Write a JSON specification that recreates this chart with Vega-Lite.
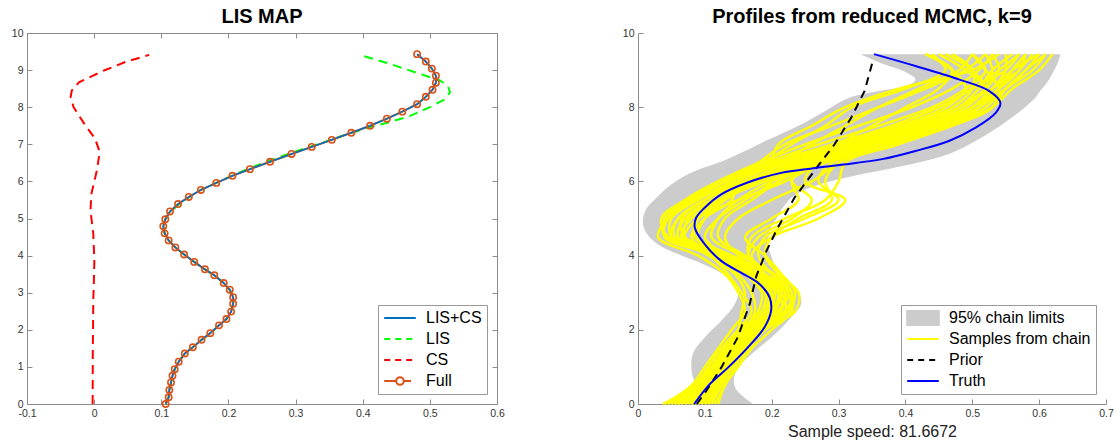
{
  "$schema": "https://vega.github.io/schema/vega-lite/v6.json",
  "background": "white",
  "padding": {"left": 10, "top": 6, "right": 4, "bottom": 2},
  "spacing": 117,
  "resolve": {"scale": {"color": "independent"}, "legend": {"color": "independent"}},
  "config": {
    "font": "Liberation Sans",
    "view": {"stroke": null},
    "axis": {"grid": false, "domainColor": "#8c8c8c", "tickColor": "#8c8c8c", "labelColor": "#333333", "labelFontSize": 10.5, "tickSize": -5, "labelPadding": 9, "labelFlush": false, "labelOverlap": false, "title": null},
    "title": {"fontSize": 20, "fontWeight": "bold", "color": "#000000", "offset": 1},
    "legend": {"orient": "bottom-right", "offset": 10, "title": null, "symbolType": "stroke", "symbolSize": 1000, "symbolStrokeWidth": 2, "labelFontSize": 16, "labelColor": "#000000", "labelOffset": 9, "padding": 5, "rowPadding": 5, "clipHeight": 16, "strokeColor": "#999999", "fillColor": "white", "cornerRadius": 0}
  },
  "datasets": {
    "full": [
      {"x":0.1065,"y":0},{"x":0.111,"y":0.18},{"x":0.112,"y":0.38},{"x":0.1145,"y":0.58},{"x":0.1167,"y":0.76},{"x":0.12,"y":0.94},{"x":0.126,"y":1.14},{"x":0.135,"y":1.36},{"x":0.147,"y":1.53},{"x":0.16,"y":1.73},{"x":0.173,"y":1.91},{"x":0.186,"y":2.12},{"x":0.197,"y":2.29},{"x":0.204,"y":2.49},{"x":0.207,"y":2.7},{"x":0.207,"y":2.88},{"x":0.202,"y":3.08},{"x":0.193,"y":3.26},{"x":0.179,"y":3.47},{"x":0.165,"y":3.63},{"x":0.149,"y":3.83},{"x":0.134,"y":4.03},{"x":0.121,"y":4.22},{"x":0.111,"y":4.41},{"x":0.105,"y":4.6},{"x":0.103,"y":4.79},{"x":0.106,"y":4.98},{"x":0.113,"y":5.19},{"x":0.125,"y":5.39},{"x":0.141,"y":5.58},{"x":0.159,"y":5.77},{"x":0.182,"y":5.96},{"x":0.206,"y":6.15},{"x":0.232,"y":6.33},{"x":0.262,"y":6.53},{"x":0.294,"y":6.74},{"x":0.324,"y":6.93},{"x":0.354,"y":7.12},{"x":0.383,"y":7.31},{"x":0.411,"y":7.5},{"x":0.436,"y":7.69},{"x":0.459,"y":7.88},{"x":0.481,"y":8.08},{"x":0.494,"y":8.28},{"x":0.504,"y":8.47},{"x":0.509,"y":8.66},{"x":0.509,"y":8.85},{"x":0.503,"y":9.04},{"x":0.494,"y":9.23},{"x":0.481,"y":9.43}
    ],
    "lis": [
      {"x":0.1065,"y":0},{"x":0.111,"y":0.18},{"x":0.112,"y":0.38},{"x":0.1145,"y":0.58},{"x":0.1167,"y":0.76},{"x":0.12,"y":0.94},{"x":0.126,"y":1.14},{"x":0.135,"y":1.36},{"x":0.147,"y":1.53},{"x":0.16,"y":1.73},{"x":0.173,"y":1.91},{"x":0.186,"y":2.12},{"x":0.197,"y":2.29},{"x":0.204,"y":2.49},{"x":0.207,"y":2.7},{"x":0.207,"y":2.88},{"x":0.202,"y":3.08},{"x":0.193,"y":3.26},{"x":0.179,"y":3.47},{"x":0.165,"y":3.63},{"x":0.149,"y":3.83},{"x":0.134,"y":4.03},{"x":0.121,"y":4.22},{"x":0.111,"y":4.41},{"x":0.105,"y":4.6},{"x":0.103,"y":4.79},{"x":0.106,"y":4.98},{"x":0.114,"y":5.19},{"x":0.127,"y":5.39},{"x":0.142,"y":5.58},{"x":0.159,"y":5.77},{"x":0.182,"y":5.96},{"x":0.205,"y":6.15},{"x":0.228,"y":6.33},{"x":0.257,"y":6.53},{"x":0.289,"y":6.74},{"x":0.321,"y":6.93},{"x":0.352,"y":7.12},{"x":0.383,"y":7.31},{"x":0.413,"y":7.47},{"x":0.44,"y":7.6},{"x":0.47,"y":7.76},{"x":0.5,"y":8.0},{"x":0.522,"y":8.21},{"x":0.53,"y":8.4},{"x":0.527,"y":8.57},{"x":0.515,"y":8.72},{"x":0.495,"y":8.84},{"x":0.465,"y":9.02},{"x":0.435,"y":9.2},{"x":0.401,"y":9.38}
    ],
    "cs": [
      {"x":-0.0023,"y":0},{"x":-0.0021,"y":0.7},{"x":-0.002,"y":1.44},{"x":-0.0016,"y":2.1},{"x":-0.0013,"y":2.79},{"x":-0.0004,"y":3.3},{"x":0.0003,"y":3.87},{"x":-0.0013,"y":4.59},{"x":-0.0055,"y":5.22},{"x":-0.004,"y":5.67},{"x":0.004,"y":6.29},{"x":0.0083,"y":6.79},{"x":0.0014,"y":7.15},{"x":-0.0146,"y":7.55},{"x":-0.0306,"y":8.0},{"x":-0.035,"y":8.27},{"x":-0.0333,"y":8.45},{"x":-0.0226,"y":8.67},{"x":0.0147,"y":8.99},{"x":0.0467,"y":9.22},{"x":0.082,"y":9.41}
    ],
    "truth": [
      {"x":0.084,"y":0},{"x":0.107,"y":0.53},{"x":0.1345,"y":0.98},{"x":0.164,"y":1.52},{"x":0.189,"y":2.06},{"x":0.199,"y":2.51},{"x":0.197,"y":2.87},{"x":0.182,"y":3.23},{"x":0.163,"y":3.45},{"x":0.125,"y":3.85},{"x":0.1,"y":4.3},{"x":0.085,"y":4.75},{"x":0.087,"y":5.02},{"x":0.0997,"y":5.29},{"x":0.1245,"y":5.65},{"x":0.164,"y":5.97},{"x":0.214,"y":6.23},{"x":0.26,"y":6.35},{"x":0.305,"y":6.45},{"x":0.365,"y":6.6},{"x":0.415,"y":6.82},{"x":0.465,"y":7.09},{"x":0.505,"y":7.45},{"x":0.535,"y":7.85},{"x":0.542,"y":8.12},{"x":0.525,"y":8.44},{"x":0.48,"y":8.75},{"x":0.415,"y":9.11},{"x":0.353,"y":9.43}
    ],
    "prior": [
      {"x":0.088,"y":0},{"x":0.102,"y":0.35},{"x":0.1245,"y":0.98},{"x":0.149,"y":1.79},{"x":0.167,"y":2.69},{"x":0.177,"y":3.45},{"x":0.192,"y":4.12},{"x":0.209,"y":4.75},{"x":0.234,"y":5.56},{"x":0.269,"y":6.41},{"x":0.294,"y":7.0},{"x":0.319,"y":7.72},{"x":0.339,"y":8.44},{"x":0.352,"y":9.3}
    ],
    "band": [
      {"y":0,"lo":0.075,"hi":0.172},{"y":0.45,"lo":0.085,"hi":0.145},{"y":0.9,"lo":0.08,"hi":0.147},{"y":1.35,"lo":0.082,"hi":0.17},{"y":1.8,"lo":0.1,"hi":0.2},{"y":2.25,"lo":0.125,"hi":0.225},{"y":2.7,"lo":0.145,"hi":0.244},{"y":3.1,"lo":0.15,"hi":0.238},{"y":3.45,"lo":0.132,"hi":0.213},{"y":3.75,"lo":0.1,"hi":0.204},{"y":4.0,"lo":0.065,"hi":0.199},{"y":4.3,"lo":0.03,"hi":0.194},{"y":4.55,"lo":0.015,"hi":0.196},{"y":4.8,"lo":0.008,"hi":0.2},{"y":5.05,"lo":0.008,"hi":0.209},{"y":5.3,"lo":0.014,"hi":0.217},{"y":5.6,"lo":0.03,"hi":0.232},{"y":5.85,"lo":0.045,"hi":0.26},{"y":6.1,"lo":0.065,"hi":0.31},{"y":6.3,"lo":0.088,"hi":0.365},{"y":6.5,"lo":0.12,"hi":0.418},{"y":6.75,"lo":0.152,"hi":0.467},{"y":7.1,"lo":0.192,"hi":0.506},{"y":7.5,"lo":0.24,"hi":0.542},{"y":7.9,"lo":0.28,"hi":0.572},{"y":8.25,"lo":0.315,"hi":0.594},{"y":8.45,"lo":0.365,"hi":0.602},{"y":8.6,"lo":0.405,"hi":0.609},{"y":8.75,"lo":0.415,"hi":0.615},{"y":8.95,"lo":0.4,"hi":0.621},{"y":9.2,"lo":0.362,"hi":0.628},{"y":9.43,"lo":0.333,"hi":0.632}
    ],
    "samples": [
      {"s":1,"y":0,"x":0.085},{"s":1,"y":0.5,"x":0.105},{"s":1,"y":1,"x":0.12},{"s":1,"y":1.5,"x":0.14},{"s":1,"y":2,"x":0.165},{"s":1,"y":2.5,"x":0.19},{"s":1,"y":3,"x":0.195},{"s":1,"y":3.5,"x":0.165},{"s":1,"y":4,"x":0.12},{"s":1,"y":4.5,"x":0.07},{"s":1,"y":5,"x":0.075},{"s":1,"y":5.5,"x":0.11},{"s":1,"y":6,"x":0.16},{"s":1,"y":6.5,"x":0.24},{"s":1,"y":7,"x":0.33},{"s":1,"y":7.5,"x":0.42},{"s":1,"y":8,"x":0.49},{"s":1,"y":8.5,"x":0.52},{"s":1,"y":9,"x":0.53},{"s":1,"y":9.43,"x":0.52},
      {"s":2,"y":0,"x":0.06},{"s":2,"y":0.5,"x":0.09},{"s":2,"y":1,"x":0.11},{"s":2,"y":1.5,"x":0.13},{"s":2,"y":2,"x":0.155},{"s":2,"y":2.5,"x":0.2},{"s":2,"y":3,"x":0.215},{"s":2,"y":3.5,"x":0.18},{"s":2,"y":4,"x":0.13},{"s":2,"y":4.5,"x":0.05},{"s":2,"y":5,"x":0.06},{"s":2,"y":5.5,"x":0.1},{"s":2,"y":6,"x":0.15},{"s":2,"y":6.5,"x":0.22},{"s":2,"y":7,"x":0.31},{"s":2,"y":7.5,"x":0.4},{"s":2,"y":8,"x":0.47},{"s":2,"y":8.5,"x":0.5},{"s":2,"y":9,"x":0.5},{"s":2,"y":9.43,"x":0.47},
      {"s":3,"y":0,"x":0.1},{"s":3,"y":0.5,"x":0.12},{"s":3,"y":1,"x":0.135},{"s":3,"y":1.5,"x":0.155},{"s":3,"y":2,"x":0.18},{"s":3,"y":2.5,"x":0.225},{"s":3,"y":3,"x":0.225},{"s":3,"y":3.5,"x":0.19},{"s":3,"y":4,"x":0.14},{"s":3,"y":4.5,"x":0.09},{"s":3,"y":5,"x":0.1},{"s":3,"y":5.5,"x":0.13},{"s":3,"y":6,"x":0.18},{"s":3,"y":6.5,"x":0.26},{"s":3,"y":7,"x":0.36},{"s":3,"y":7.5,"x":0.45},{"s":3,"y":8,"x":0.51},{"s":3,"y":8.5,"x":0.54},{"s":3,"y":9,"x":0.56},{"s":3,"y":9.43,"x":0.58},
      {"s":4,"y":0,"x":0.04},{"s":4,"y":0.5,"x":0.08},{"s":4,"y":1,"x":0.1},{"s":4,"y":1.5,"x":0.12},{"s":4,"y":2,"x":0.14},{"s":4,"y":2.5,"x":0.16},{"s":4,"y":3,"x":0.15},{"s":4,"y":3.5,"x":0.13},{"s":4,"y":4,"x":0.09},{"s":4,"y":4.5,"x":0.03},{"s":4,"y":5,"x":0.045},{"s":4,"y":5.5,"x":0.085},{"s":4,"y":6,"x":0.13},{"s":4,"y":6.5,"x":0.21},{"s":4,"y":7,"x":0.3},{"s":4,"y":7.5,"x":0.39},{"s":4,"y":8,"x":0.46},{"s":4,"y":8.5,"x":0.49},{"s":4,"y":9,"x":0.47},{"s":4,"y":9.43,"x":0.43},
      {"s":5,"y":0,"x":0.115},{"s":5,"y":0.5,"x":0.13},{"s":5,"y":1,"x":0.145},{"s":5,"y":1.5,"x":0.165},{"s":5,"y":2,"x":0.19},{"s":5,"y":2.5,"x":0.235},{"s":5,"y":3,"x":0.24},{"s":5,"y":3.5,"x":0.205},{"s":5,"y":4,"x":0.155},{"s":5,"y":4.5,"x":0.11},{"s":5,"y":5,"x":0.12},{"s":5,"y":5.5,"x":0.15},{"s":5,"y":6,"x":0.2},{"s":5,"y":6.5,"x":0.28},{"s":5,"y":7,"x":0.38},{"s":5,"y":7.5,"x":0.47},{"s":5,"y":8,"x":0.53},{"s":5,"y":8.5,"x":0.55},{"s":5,"y":9,"x":0.58},{"s":5,"y":9.43,"x":0.6},
      {"s":6,"y":0,"x":0.075},{"s":6,"y":0.5,"x":0.1},{"s":6,"y":1,"x":0.115},{"s":6,"y":1.5,"x":0.135},{"s":6,"y":2,"x":0.15},{"s":6,"y":2.5,"x":0.155},{"s":6,"y":3,"x":0.16},{"s":6,"y":3.5,"x":0.145},{"s":6,"y":4,"x":0.105},{"s":6,"y":4.5,"x":0.06},{"s":6,"y":5,"x":0.07},{"s":6,"y":5.5,"x":0.12},{"s":6,"y":6,"x":0.17},{"s":6,"y":6.5,"x":0.25},{"s":6,"y":7,"x":0.34},{"s":6,"y":7.5,"x":0.43},{"s":6,"y":8,"x":0.5},{"s":6,"y":8.5,"x":0.53},{"s":6,"y":9,"x":0.55},{"s":6,"y":9.43,"x":0.55},
      {"s":7,"y":0,"x":0.095},{"s":7,"y":0.5,"x":0.115},{"s":7,"y":1,"x":0.13},{"s":7,"y":1.5,"x":0.15},{"s":7,"y":2,"x":0.175},{"s":7,"y":2.5,"x":0.21},{"s":7,"y":3,"x":0.22},{"s":7,"y":3.5,"x":0.2},{"s":7,"y":4,"x":0.18},{"s":7,"y":4.5,"x":0.19},{"s":7,"y":5,"x":0.25},{"s":7,"y":5.5,"x":0.3},{"s":7,"y":6,"x":0.27},{"s":7,"y":6.5,"x":0.29},{"s":7,"y":7,"x":0.37},{"s":7,"y":7.5,"x":0.45},{"s":7,"y":8,"x":0.51},{"s":7,"y":8.5,"x":0.52},{"s":7,"y":9,"x":0.5},{"s":7,"y":9.43,"x":0.46},
      {"s":8,"y":0,"x":0.055},{"s":8,"y":0.5,"x":0.095},{"s":8,"y":1,"x":0.12},{"s":8,"y":1.5,"x":0.14},{"s":8,"y":2,"x":0.17},{"s":8,"y":2.5,"x":0.2},{"s":8,"y":3,"x":0.2},{"s":8,"y":3.5,"x":0.19},{"s":8,"y":4,"x":0.17},{"s":8,"y":4.5,"x":0.2},{"s":8,"y":5,"x":0.27},{"s":8,"y":5.5,"x":0.31},{"s":8,"y":6,"x":0.25},{"s":8,"y":6.5,"x":0.27},{"s":8,"y":7,"x":0.34},{"s":8,"y":7.5,"x":0.43},{"s":8,"y":8,"x":0.5},{"s":8,"y":8.5,"x":0.53},{"s":8,"y":9,"x":0.57},{"s":8,"y":9.43,"x":0.59},
      {"s":9,"y":0,"x":0.11},{"s":9,"y":0.5,"x":0.125},{"s":9,"y":1,"x":0.14},{"s":9,"y":1.5,"x":0.16},{"s":9,"y":2,"x":0.18},{"s":9,"y":2.5,"x":0.215},{"s":9,"y":3,"x":0.21},{"s":9,"y":3.5,"x":0.185},{"s":9,"y":4,"x":0.165},{"s":9,"y":4.5,"x":0.17},{"s":9,"y":5,"x":0.22},{"s":9,"y":5.5,"x":0.28},{"s":9,"y":6,"x":0.3},{"s":9,"y":6.5,"x":0.31},{"s":9,"y":7,"x":0.39},{"s":9,"y":7.5,"x":0.47},{"s":9,"y":8,"x":0.53},{"s":9,"y":8.5,"x":0.54},{"s":9,"y":9,"x":0.52},{"s":9,"y":9.43,"x":0.5},
      {"s":10,"y":0,"x":0.09},{"s":10,"y":0.5,"x":0.105},{"s":10,"y":1,"x":0.12},{"s":10,"y":1.5,"x":0.135},{"s":10,"y":2,"x":0.15},{"s":10,"y":2.5,"x":0.17},{"s":10,"y":3,"x":0.155},{"s":10,"y":3.5,"x":0.135},{"s":10,"y":4,"x":0.11},{"s":10,"y":4.5,"x":0.08},{"s":10,"y":5,"x":0.1},{"s":10,"y":5.5,"x":0.14},{"s":10,"y":6,"x":0.15},{"s":10,"y":6.5,"x":0.19},{"s":10,"y":7,"x":0.23},{"s":10,"y":7.5,"x":0.28},{"s":10,"y":8,"x":0.32},{"s":10,"y":8.5,"x":0.4},{"s":10,"y":9,"x":0.46},{"s":10,"y":9.43,"x":0.44},
      {"s":11,"y":0,"x":0.037},{"s":11,"y":0.5,"x":0.085},{"s":11,"y":1,"x":0.11},{"s":11,"y":1.5,"x":0.135},{"s":11,"y":2,"x":0.16},{"s":11,"y":2.5,"x":0.19},{"s":11,"y":3,"x":0.2},{"s":11,"y":3.5,"x":0.17},{"s":11,"y":4,"x":0.125},{"s":11,"y":4.5,"x":0.065},{"s":11,"y":5,"x":0.08},{"s":11,"y":5.5,"x":0.125},{"s":11,"y":6,"x":0.19},{"s":11,"y":6.5,"x":0.27},{"s":11,"y":7,"x":0.37},{"s":11,"y":7.5,"x":0.46},{"s":11,"y":8,"x":0.53},{"s":11,"y":8.5,"x":0.56},{"s":11,"y":9,"x":0.6},{"s":11,"y":9.43,"x":0.62},
      {"s":12,"y":0,"x":0.1},{"s":12,"y":0.5,"x":0.115},{"s":12,"y":1,"x":0.13},{"s":12,"y":1.5,"x":0.15},{"s":12,"y":2,"x":0.175},{"s":12,"y":2.5,"x":0.21},{"s":12,"y":3,"x":0.22},{"s":12,"y":3.5,"x":0.18},{"s":12,"y":4,"x":0.13},{"s":12,"y":4.5,"x":0.07},{"s":12,"y":5,"x":0.09},{"s":12,"y":5.5,"x":0.15},{"s":12,"y":6,"x":0.22},{"s":12,"y":6.5,"x":0.27},{"s":12,"y":7,"x":0.3},{"s":12,"y":7.5,"x":0.35},{"s":12,"y":8,"x":0.4},{"s":12,"y":8.5,"x":0.45},{"s":12,"y":9,"x":0.47},{"s":12,"y":9.43,"x":0.43},
      {"s":13,"y":0,"x":0.08},{"s":13,"y":0.5,"x":0.1},{"s":13,"y":1,"x":0.12},{"s":13,"y":1.5,"x":0.14},{"s":13,"y":2,"x":0.16},{"s":13,"y":2.5,"x":0.18},{"s":13,"y":3,"x":0.185},{"s":13,"y":3.5,"x":0.16},{"s":13,"y":4,"x":0.12},{"s":13,"y":4.5,"x":0.04},{"s":13,"y":5,"x":0.045},{"s":13,"y":5.5,"x":0.08},{"s":13,"y":6,"x":0.13},{"s":13,"y":6.5,"x":0.2},{"s":13,"y":7,"x":0.29},{"s":13,"y":7.5,"x":0.38},{"s":13,"y":8,"x":0.45},{"s":13,"y":8.5,"x":0.5},{"s":13,"y":9,"x":0.54},{"s":13,"y":9.43,"x":0.57},
      {"s":14,"y":0,"x":0.105},{"s":14,"y":0.5,"x":0.125},{"s":14,"y":1,"x":0.14},{"s":14,"y":1.5,"x":0.16},{"s":14,"y":2,"x":0.175},{"s":14,"y":2.5,"x":0.2},{"s":14,"y":3,"x":0.19},{"s":14,"y":3.5,"x":0.16},{"s":14,"y":4,"x":0.13},{"s":14,"y":4.5,"x":0.1},{"s":14,"y":5,"x":0.12},{"s":14,"y":5.5,"x":0.16},{"s":14,"y":6,"x":0.2},{"s":14,"y":6.5,"x":0.2},{"s":14,"y":7,"x":0.21},{"s":14,"y":7.5,"x":0.26},{"s":14,"y":8,"x":0.31},{"s":14,"y":8.5,"x":0.39},{"s":14,"y":9,"x":0.5},{"s":14,"y":9.43,"x":0.54},
      {"s":15,"y":0,"x":0.065},{"s":15,"y":0.5,"x":0.095},{"s":15,"y":1,"x":0.115},{"s":15,"y":1.5,"x":0.14},{"s":15,"y":2,"x":0.165},{"s":15,"y":2.5,"x":0.2},{"s":15,"y":3,"x":0.21},{"s":15,"y":3.5,"x":0.175},{"s":15,"y":4,"x":0.135},{"s":15,"y":4.5,"x":0.085},{"s":15,"y":5,"x":0.09},{"s":15,"y":5.5,"x":0.13},{"s":15,"y":6,"x":0.17},{"s":15,"y":6.5,"x":0.23},{"s":15,"y":7,"x":0.32},{"s":15,"y":7.5,"x":0.41},{"s":15,"y":8,"x":0.48},{"s":15,"y":8.5,"x":0.51},{"s":15,"y":9,"x":0.53},{"s":15,"y":9.43,"x":0.56},
      {"s":16,"y":0,"x":0.09},{"s":16,"y":0.5,"x":0.115},{"s":16,"y":1,"x":0.135},{"s":16,"y":1.5,"x":0.155},{"s":16,"y":2,"x":0.18},{"s":16,"y":2.5,"x":0.22},{"s":16,"y":3,"x":0.23},{"s":16,"y":3.5,"x":0.2},{"s":16,"y":4,"x":0.16},{"s":16,"y":4.5,"x":0.12},{"s":16,"y":5,"x":0.13},{"s":16,"y":5.5,"x":0.17},{"s":16,"y":6,"x":0.21},{"s":16,"y":6.5,"x":0.27},{"s":16,"y":7,"x":0.35},{"s":16,"y":7.5,"x":0.43},{"s":16,"y":8,"x":0.5},{"s":16,"y":8.5,"x":0.54},{"s":16,"y":9,"x":0.57},{"s":16,"y":9.43,"x":0.58},
      {"s":17,"y":0,"x":0.05},{"s":17,"y":0.5,"x":0.09},{"s":17,"y":1,"x":0.115},{"s":17,"y":1.5,"x":0.14},{"s":17,"y":2,"x":0.17},{"s":17,"y":2.5,"x":0.21},{"s":17,"y":3,"x":0.225},{"s":17,"y":3.5,"x":0.19},{"s":17,"y":4,"x":0.14},{"s":17,"y":4.5,"x":0.045},{"s":17,"y":5,"x":0.035},{"s":17,"y":5.5,"x":0.07},{"s":17,"y":6,"x":0.12},{"s":17,"y":6.5,"x":0.19},{"s":17,"y":7,"x":0.27},{"s":17,"y":7.5,"x":0.36},{"s":17,"y":8,"x":0.44},{"s":17,"y":8.5,"x":0.49},{"s":17,"y":9,"x":0.52},{"s":17,"y":9.43,"x":0.5},
      {"s":18,"y":0,"x":0.12},{"s":18,"y":0.5,"x":0.13},{"s":18,"y":1,"x":0.15},{"s":18,"y":1.5,"x":0.17},{"s":18,"y":2,"x":0.2},{"s":18,"y":2.5,"x":0.23},{"s":18,"y":3,"x":0.23},{"s":18,"y":3.5,"x":0.21},{"s":18,"y":4,"x":0.19},{"s":18,"y":4.5,"x":0.2},{"s":18,"y":5,"x":0.24},{"s":18,"y":5.5,"x":0.29},{"s":18,"y":6,"x":0.28},{"s":18,"y":6.5,"x":0.3},{"s":18,"y":7,"x":0.37},{"s":18,"y":7.5,"x":0.46},{"s":18,"y":8,"x":0.52},{"s":18,"y":8.5,"x":0.55},{"s":18,"y":9,"x":0.59},{"s":18,"y":9.43,"x":0.61},
      {"s":19,"y":0,"x":0.07},{"s":19,"y":0.5,"x":0.1},{"s":19,"y":1,"x":0.125},{"s":19,"y":1.5,"x":0.145},{"s":19,"y":2,"x":0.17},{"s":19,"y":2.5,"x":0.195},{"s":19,"y":3,"x":0.205},{"s":19,"y":3.5,"x":0.185},{"s":19,"y":4,"x":0.165},{"s":19,"y":4.5,"x":0.18},{"s":19,"y":5,"x":0.23},{"s":19,"y":5.5,"x":0.26},{"s":19,"y":6,"x":0.23},{"s":19,"y":6.5,"x":0.24},{"s":19,"y":7,"x":0.3},{"s":19,"y":7.5,"x":0.38},{"s":19,"y":8,"x":0.45},{"s":19,"y":8.5,"x":0.5},{"s":19,"y":9,"x":0.55},{"s":19,"y":9.43,"x":0.57},
      {"s":20,"y":0,"x":0.095},{"s":20,"y":0.5,"x":0.11},{"s":20,"y":1,"x":0.125},{"s":20,"y":1.5,"x":0.145},{"s":20,"y":2,"x":0.16},{"s":20,"y":2.5,"x":0.175},{"s":20,"y":3,"x":0.17},{"s":20,"y":3.5,"x":0.15},{"s":20,"y":4,"x":0.12},{"s":20,"y":4.5,"x":0.05},{"s":20,"y":5,"x":0.05},{"s":20,"y":5.5,"x":0.09},{"s":20,"y":6,"x":0.14},{"s":20,"y":6.5,"x":0.21},{"s":20,"y":7,"x":0.26},{"s":20,"y":7.5,"x":0.31},{"s":20,"y":8,"x":0.36},{"s":20,"y":8.5,"x":0.42},{"s":20,"y":9,"x":0.48},{"s":20,"y":9.43,"x":0.5},
      {"s":21,"y":0,"x":0.045},{"s":21,"y":0.5,"x":0.085},{"s":21,"y":1,"x":0.105},{"s":21,"y":1.5,"x":0.125},{"s":21,"y":2,"x":0.15},{"s":21,"y":2.5,"x":0.185},{"s":21,"y":3,"x":0.19},{"s":21,"y":3.5,"x":0.16},{"s":21,"y":4,"x":0.115},{"s":21,"y":4.5,"x":0.04},{"s":21,"y":5,"x":0.04},{"s":21,"y":5.5,"x":0.075},{"s":21,"y":6,"x":0.12},{"s":21,"y":6.5,"x":0.18},{"s":21,"y":7,"x":0.25},{"s":21,"y":7.5,"x":0.33},{"s":21,"y":8,"x":0.41},{"s":21,"y":8.5,"x":0.47},{"s":21,"y":9,"x":0.51},{"s":21,"y":9.43,"x":0.53},
      {"s":22,"y":0,"x":0.105},{"s":22,"y":0.5,"x":0.12},{"s":22,"y":1,"x":0.14},{"s":22,"y":1.5,"x":0.16},{"s":22,"y":2,"x":0.185},{"s":22,"y":2.5,"x":0.22},{"s":22,"y":3,"x":0.215},{"s":22,"y":3.5,"x":0.19},{"s":22,"y":4,"x":0.15},{"s":22,"y":4.5,"x":0.13},{"s":22,"y":5,"x":0.15},{"s":22,"y":5.5,"x":0.2},{"s":22,"y":6,"x":0.26},{"s":22,"y":6.5,"x":0.3},{"s":22,"y":7,"x":0.36},{"s":22,"y":7.5,"x":0.44},{"s":22,"y":8,"x":0.5},{"s":22,"y":8.5,"x":0.53},{"s":22,"y":9,"x":0.56},{"s":22,"y":9.43,"x":0.6},
      {"s":23,"y":0,"x":0.08},{"s":23,"y":0.5,"x":0.105},{"s":23,"y":1,"x":0.125},{"s":23,"y":1.5,"x":0.145},{"s":23,"y":2,"x":0.17},{"s":23,"y":2.5,"x":0.205},{"s":23,"y":3,"x":0.21},{"s":23,"y":3.5,"x":0.18},{"s":23,"y":4,"x":0.14},{"s":23,"y":4.5,"x":0.07},{"s":23,"y":5,"x":0.065},{"s":23,"y":5.5,"x":0.1},{"s":23,"y":6,"x":0.14},{"s":23,"y":6.5,"x":0.18},{"s":23,"y":7,"x":0.22},{"s":23,"y":7.5,"x":0.29},{"s":23,"y":8,"x":0.36},{"s":23,"y":8.5,"x":0.43},{"s":23,"y":9,"x":0.49},{"s":23,"y":9.43,"x":0.52},
      {"s":24,"y":0,"x":0.06},{"s":24,"y":0.5,"x":0.1},{"s":24,"y":1,"x":0.12},{"s":24,"y":1.5,"x":0.14},{"s":24,"y":2,"x":0.165},{"s":24,"y":2.5,"x":0.19},{"s":24,"y":3,"x":0.2},{"s":24,"y":3.5,"x":0.175},{"s":24,"y":4,"x":0.13},{"s":24,"y":4.5,"x":0.06},{"s":24,"y":5,"x":0.07},{"s":24,"y":5.5,"x":0.11},{"s":24,"y":6,"x":0.17},{"s":24,"y":6.5,"x":0.25},{"s":24,"y":7,"x":0.35},{"s":24,"y":7.5,"x":0.44},{"s":24,"y":8,"x":0.51},{"s":24,"y":8.5,"x":0.55},{"s":24,"y":9,"x":0.58},{"s":24,"y":9.43,"x":0.61},
      {"s":25,"y":0,"x":0.1},{"s":25,"y":0.5,"x":0.12},{"s":25,"y":1,"x":0.14},{"s":25,"y":1.5,"x":0.16},{"s":25,"y":2,"x":0.19},{"s":25,"y":2.5,"x":0.225},{"s":25,"y":3,"x":0.235},{"s":25,"y":3.5,"x":0.215},{"s":25,"y":4,"x":0.19},{"s":25,"y":4.5,"x":0.16},{"s":25,"y":5,"x":0.2},{"s":25,"y":5.5,"x":0.24},{"s":25,"y":6,"x":0.23},{"s":25,"y":6.5,"x":0.26},{"s":25,"y":7,"x":0.33},{"s":25,"y":7.5,"x":0.41},{"s":25,"y":8,"x":0.48},{"s":25,"y":8.5,"x":0.52},{"s":25,"y":9,"x":0.54},{"s":25,"y":9.43,"x":0.53},
      {"s":26,"y":0,"x":0.085},{"s":26,"y":0.5,"x":0.11},{"s":26,"y":1,"x":0.13},{"s":26,"y":1.5,"x":0.15},{"s":26,"y":2,"x":0.17},{"s":26,"y":2.5,"x":0.2},{"s":26,"y":3,"x":0.2},{"s":26,"y":3.5,"x":0.17},{"s":26,"y":4,"x":0.125},{"s":26,"y":4.5,"x":0.055},{"s":26,"y":5,"x":0.06},{"s":26,"y":5.5,"x":0.1},{"s":26,"y":6,"x":0.16},{"s":26,"y":6.5,"x":0.23},{"s":26,"y":7,"x":0.32},{"s":26,"y":7.5,"x":0.41},{"s":26,"y":8,"x":0.48},{"s":26,"y":8.5,"x":0.52},{"s":26,"y":9,"x":0.49},{"s":26,"y":9.43,"x":0.45}
    ]
  },
  "hconcat": [
    {
      "width": 470,
      "height": 371,
      "title": "LIS MAP",
      "view": {"stroke": "#8c8c8c"},
      "resolve": {"axis": {"x": "independent", "y": "independent"}},
      "layer": [
        {
          "data": {"name": "cs"},
          "mark": {"type": "line", "strokeWidth": 2, "strokeDash": [9, 6]},
          "encoding": {
            "x": {"field": "x", "type": "quantitative", "scale": {"domain": [-0.1, 0.6], "nice": false, "zero": false}, "axis": {"orient": "bottom", "values": [-0.1, 0, 0.1, 0.2, 0.3, 0.4, 0.5, 0.6], "labelExpr": "replace(format(datum.value, '~g'), '\u2212', '-')"}},
            "y": {"field": "y", "type": "quantitative", "scale": {"domain": [0, 10], "nice": false, "zero": false}, "axis": {"orient": "left", "values": [0, 1, 2, 3, 4, 5, 6, 7, 8, 9, 10]}},
            "order": {"field": "y"},
            "color": {"datum": "CS", "type": "nominal", "scale": {"domain": ["LIS+CS", "LIS", "CS", "Full"], "range": ["#0072BD", "#00FF00", "#FF0000", "#D95319"]},
              "legend": {"encode": {"symbols": {"update": {
                "shape": {"signal": "datum.label === 'Full' ? 'M-1,0H-0.24M0.24,0H0.7M0.24,0A0.24,0.24,0,1,1,-0.24,0A0.24,0.24,0,1,1,0.24,0' : 'stroke'"},
                "strokeDash": {"signal": "(datum.label === 'LIS' || datum.label === 'CS') ? [6, 5] : []"},
                "stroke": {"signal": "datum.label === 'LIS+CS' ? '#0072BD' : datum.label === 'LIS' ? '#00FF00' : datum.label === 'CS' ? '#FF0000' : '#D95319'"},
                "fill": {"value": "transparent"},
                "strokeWidth": {"value": 2},
                "opacity": {"value": 1}
              }}}}}
          }
        },
        {
          "data": {"name": "lis"},
          "mark": {"type": "line", "strokeWidth": 2, "strokeDash": [9, 6]},
          "encoding": {
            "x": {"field": "x", "type": "quantitative", "axis": null},
            "y": {"field": "y", "type": "quantitative", "axis": null},
            "order": {"field": "y"},
            "color": {"datum": "LIS", "type": "nominal"}
          }
        },
        {
          "data": {"name": "full"},
          "mark": {"type": "line", "strokeWidth": 2},
          "encoding": {
            "x": {"field": "x", "type": "quantitative", "axis": null},
            "y": {"field": "y", "type": "quantitative", "axis": null},
            "order": {"field": "y"},
            "color": {"datum": "Full", "type": "nominal"}
          }
        },
        {
          "data": {"name": "full"},
          "mark": {"type": "line", "strokeWidth": 1.6},
          "encoding": {
            "x": {"field": "x", "type": "quantitative", "axis": {"orient": "top", "values": [-0.1, 0, 0.1, 0.2, 0.3, 0.4, 0.5, 0.6], "labels": false}},
            "y": {"field": "y", "type": "quantitative", "axis": {"orient": "right", "values": [0, 1, 2, 3, 4, 5, 6, 7, 8, 9, 10], "labels": false}},
            "order": {"field": "y"},
            "color": {"datum": "LIS+CS", "type": "nominal"}
          }
        },
        {
          "data": {"name": "full"},
          "mark": {"type": "point", "shape": "circle", "filled": false, "size": 40, "strokeWidth": 1.6, "opacity": 1},
          "encoding": {
            "x": {"field": "x", "type": "quantitative", "axis": null},
            "y": {"field": "y", "type": "quantitative", "axis": null},
            "color": {"datum": "Full", "type": "nominal"}
          }
        }
      ]
    },
    {
      "width": 468,
      "height": 371,
      "title": "Profiles from reduced MCMC, k=9",
      "layer": [
        {
          "data": {"name": "band"},
          "mark": {"type": "area", "orient": "horizontal", "interpolate": "catmull-rom", "opacity": 1},
          "encoding": {
            "y": {"field": "y", "type": "quantitative", "scale": {"domain": [0, 10], "nice": false, "zero": false}, "axis": {"orient": "left", "values": [0, 1, 2, 3, 4, 5, 6, 7, 8, 9, 10]}},
            "x": {"field": "lo", "type": "quantitative", "scale": {"domain": [0, 0.7], "nice": false, "zero": false}, "axis": {"orient": "bottom", "values": [0, 0.1, 0.2, 0.3, 0.4, 0.5, 0.6, 0.7], "labelExpr": "format(datum.value, '~g')", "title": "Sample speed: 81.6672", "titleFontSize": 16, "titleFontWeight": "normal", "titleColor": "#222222", "titlePadding": 5}},
            "x2": {"field": "hi"},
            "color": {"datum": "95% chain limits", "type": "nominal", "scale": {"domain": ["95% chain limits", "Samples from chain", "Prior", "Truth"], "range": ["#cccccc", "#ffff00", "#000000", "#0000ff"]},
              "legend": {"symbolType": "stroke", "encode": {"symbols": {"update": {
                "shape": {"signal": "datum.label === '95% chain limits' ? 'M-1,-0.48H1V0.48H-1Z' : 'stroke'"},
                "fill": {"signal": "datum.label === '95% chain limits' ? '#cccccc' : 'transparent'"},
                "stroke": {"signal": "datum.label === '95% chain limits' ? 'transparent' : datum.label === 'Samples from chain' ? '#ffff00' : datum.label === 'Prior' ? '#000000' : '#0000ff'"},
                "strokeDash": {"signal": "datum.label === 'Prior' ? [6, 5] : []"},
                "strokeWidth": {"value": 2},
                "opacity": {"value": 1}
              }}}}}
          }
        },
        {
          "data": {"name": "samples"},
          "mark": {"type": "line", "strokeWidth": 2.4, "interpolate": "catmull-rom"},
          "encoding": {
            "x": {"field": "x", "type": "quantitative"},
            "y": {"field": "y", "type": "quantitative"},
            "detail": {"field": "s", "type": "nominal"},
            "order": {"field": "y"},
            "color": {"datum": "Samples from chain", "type": "nominal",
              "legend": {"symbolType": "stroke", "encode": {"symbols": {"update": {
                "shape": {"signal": "datum.label === '95% chain limits' ? 'M-1,-0.48H1V0.48H-1Z' : 'stroke'"},
                "fill": {"signal": "datum.label === '95% chain limits' ? '#cccccc' : 'transparent'"},
                "stroke": {"signal": "datum.label === '95% chain limits' ? 'transparent' : datum.label === 'Samples from chain' ? '#ffff00' : datum.label === 'Prior' ? '#000000' : '#0000ff'"},
                "strokeDash": {"signal": "datum.label === 'Prior' ? [6, 5] : []"},
                "strokeWidth": {"value": 2},
                "opacity": {"value": 1}
              }}}}}
          }
        },
        {
          "data": {"name": "prior"},
          "mark": {"type": "line", "strokeWidth": 2, "strokeDash": [8, 6]},
          "encoding": {
            "x": {"field": "x", "type": "quantitative"},
            "y": {"field": "y", "type": "quantitative"},
            "order": {"field": "y"},
            "color": {"datum": "Prior", "type": "nominal",
              "legend": {"symbolType": "stroke", "encode": {"symbols": {"update": {
                "shape": {"signal": "datum.label === '95% chain limits' ? 'M-1,-0.48H1V0.48H-1Z' : 'stroke'"},
                "fill": {"signal": "datum.label === '95% chain limits' ? '#cccccc' : 'transparent'"},
                "stroke": {"signal": "datum.label === '95% chain limits' ? 'transparent' : datum.label === 'Samples from chain' ? '#ffff00' : datum.label === 'Prior' ? '#000000' : '#0000ff'"},
                "strokeDash": {"signal": "datum.label === 'Prior' ? [6, 5] : []"},
                "strokeWidth": {"value": 2},
                "opacity": {"value": 1}
              }}}}}
          }
        },
        {
          "data": {"name": "truth"},
          "mark": {"type": "line", "strokeWidth": 2, "interpolate": "catmull-rom"},
          "encoding": {
            "x": {"field": "x", "type": "quantitative"},
            "y": {"field": "y", "type": "quantitative"},
            "order": {"field": "y"},
            "color": {"datum": "Truth", "type": "nominal",
              "legend": {"symbolType": "stroke", "encode": {"symbols": {"update": {
                "shape": {"signal": "datum.label === '95% chain limits' ? 'M-1,-0.48H1V0.48H-1Z' : 'stroke'"},
                "fill": {"signal": "datum.label === '95% chain limits' ? '#cccccc' : 'transparent'"},
                "stroke": {"signal": "datum.label === '95% chain limits' ? 'transparent' : datum.label === 'Samples from chain' ? '#ffff00' : datum.label === 'Prior' ? '#000000' : '#0000ff'"},
                "strokeDash": {"signal": "datum.label === 'Prior' ? [6, 5] : []"},
                "strokeWidth": {"value": 2},
                "opacity": {"value": 1}
              }}}}}
          }
        }
      ]
    }
  ]
}
